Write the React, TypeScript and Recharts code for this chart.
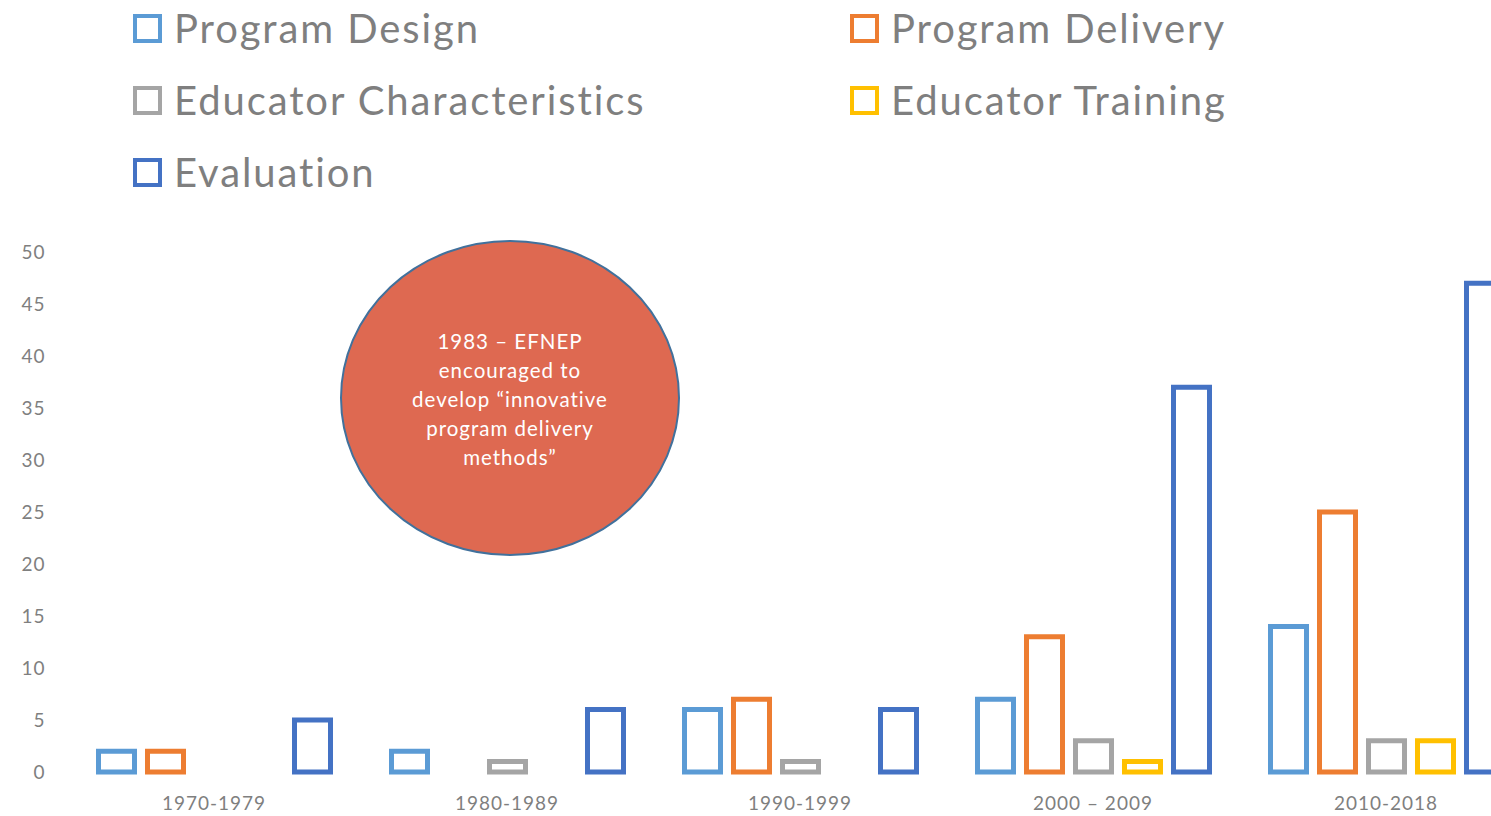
import React from 'react';
import { BarChart, Bar, XAxis, YAxis } from 'recharts';

const decades = ['1970-1979', '1980-1989', '1990-1999', '2000 – 2009', '2010-2018'];
const programDesign = [2, 2, 6, 7, 14];
const programDelivery = [2, 0, 7, 13, 25];
const educatorCharacteristics = [0, 1, 1, 3, 3];
const educatorTraining = [0, 0, 0, 1, 3];
const evaluation = [5, 6, 6, 37, 47];
const yTicks = [0, 5, 10, 15, 20, 25, 30, 35, 40, 45, 50];
const noteLines = ['1983 – EFNEP', 'encouraged to', 'develop “innovative', 'program delivery', 'methods”'];

const series = [
  { key: 'design', name: 'Program Design', color: '#5B9BD5', values: programDesign },
  { key: 'delivery', name: 'Program Delivery', color: '#ED7D31', values: programDelivery },
  { key: 'characteristics', name: 'Educator Characteristics', color: '#A5A5A5', values: educatorCharacteristics },
  { key: 'training', name: 'Educator Training', color: '#FFC000', values: educatorTraining },
  { key: 'evaluation', name: 'Evaluation', color: '#4472C4', values: evaluation },
];

const data = decades.map((decade, i) => {
  const row: Record<string, string | number> = { decade };
  series.forEach((s) => {
    row[s.key] = s.values[i];
  });
  return row;
});

const FONT = 'Lato, "Open Sans", sans-serif';
const GRAY = '#7F7F7F';

const LegendBlock: React.FC = () => (
  <div style={{ position: 'absolute', left: 0, top: 0, width: 1491, height: 210 }}>
    {series.map((s, i) => {
      const col = i % 2;
      const row = Math.floor(i / 2);
      return (
        <div
          key={s.key}
          style={{
            position: 'absolute',
            left: col === 0 ? 133 : 850,
            top: 4 + row * 72,
            display: 'flex',
            alignItems: 'center',
            height: 48,
          }}
        >
          <span
            style={{
              display: 'inline-block',
              width: 21,
              height: 21,
              border: `4.5px solid ${s.color}`,
              marginRight: 12,
            }}
          />
          <span
            style={{ fontFamily: FONT, fontSize: 40, letterSpacing: 1.9, color: GRAY, whiteSpace: 'nowrap' }}
          >
            {s.name}
          </span>
        </div>
      );
    })}
  </div>
);

const Note: React.FC = () => (
  <svg width={1491} height={816} style={{ position: 'absolute', left: 0, top: 0, pointerEvents: 'none' }}>
    <ellipse cx={510} cy={398} rx={169} ry={157} fill="#DE6951" stroke="#41719C" strokeWidth={2} />
    {noteLines.map((line, i) => (
      <text
        key={i}
        x={510}
        y={349 + i * 29}
        textAnchor="middle"
        fill="#FFFFFF"
        fontFamily={FONT}
        fontSize={20.5}
        letterSpacing={1}
      >
        {line}
      </text>
    ))}
  </svg>
);

const App: React.FC = () => {
  return (
    <div
      style={{
        position: 'fixed',
        left: 0,
        top: 0,
        width: 1491,
        height: 816,
        overflow: 'hidden',
        background: '#fff',
      }}
    >
      <LegendBlock />
      <div style={{ position: 'absolute', left: 0, top: 0 }}>
        <BarChart
          width={1540}
          height={816}
          data={data}
          margin={{ top: 252, right: 7.5, left: 0, bottom: 0 }}
          barSize={36}
          barGap={13}
        >
          <XAxis
            dataKey="decade"
            axisLine={false}
            tickLine={false}
            tickSize={0}
            tickMargin={25}
            height={44}
            interval={0}
            tick={{ fill: GRAY, fontSize: 19, fontFamily: FONT, letterSpacing: 1 }}
          />
          <YAxis
            domain={[0, 50]}
            ticks={yTicks}
            axisLine={false}
            tickLine={false}
            tickSize={0}
            tickMargin={22}
            width={67.5}
            interval={0}
            tick={{ fill: GRAY, fontSize: 19, fontFamily: FONT, letterSpacing: 1 }}
          />
          {series.map((s) => (
            <Bar
              key={s.key}
              dataKey={s.key}
              name={s.name}
              fill="#FFFFFF"
              stroke={s.color}
              strokeWidth={5}
              isAnimationActive={false}
            />
          ))}
        </BarChart>
      </div>
      <Note />
    </div>
  );
};

export default App;
